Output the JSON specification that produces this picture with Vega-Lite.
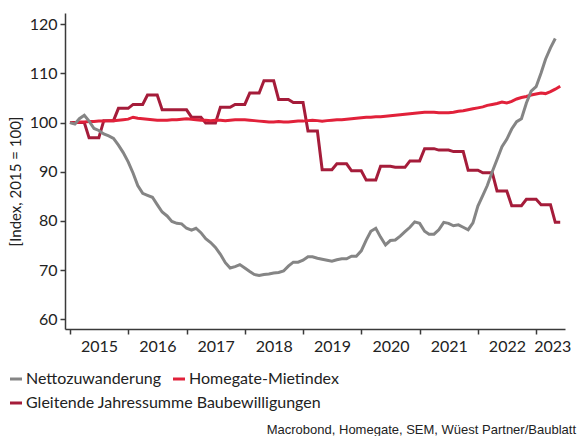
{
  "$schema": "https://vega.github.io/schema/vega-lite/v6.json",
  "width": 500,
  "height": 316,
  "autosize": {"type": "none"},
  "padding": {"left": 65, "top": 13, "right": 12, "bottom": 107},
  "background": "white",
  "config": {
    "view": {"stroke": null},
    "font": "Lato",
    "legend": {
      "orient": "none",
      "direction": "horizontal",
      "title": null,
      "symbolType": "stroke",
      "symbolSize": 144,
      "symbolStrokeWidth": 3,
      "labelFont": "Lato",
      "labelFontSize": 16,
      "labelColor": "#222222",
      "labelLimit": 400,
      "labelOffset": 2,
      "columnPadding": 5,
      "padding": 0
    }
  },
  "title": {
    "text": "Macrobond, Homegate, SEM, Wüest Partner/Baublatt",
    "orient": "bottom",
    "anchor": "end",
    "frame": "group",
    "font": "Liberation Sans",
    "fontSize": 13,
    "fontWeight": "normal",
    "color": "#222222",
    "offset": 13,
    "dx": 11
  },
  "data": {
    "values": [
      {"date": "2015-01-01", "netto": 100.0, "miet": 100.0, "bau": 100.0},
      {"date": "2015-02-01", "netto": 99.7, "miet": 99.9, "bau": 100.0},
      {"date": "2015-03-01", "netto": 100.8, "miet": 100.1, "bau": 100.0},
      {"date": "2015-04-01", "netto": 101.5, "miet": 100.1, "bau": 100.0},
      {"date": "2015-05-01", "netto": 100.3, "miet": 100.2, "bau": 96.9},
      {"date": "2015-06-01", "netto": 98.8, "miet": 100.2, "bau": 96.9},
      {"date": "2015-07-01", "netto": 98.4, "miet": 100.3, "bau": 96.9},
      {"date": "2015-08-01", "netto": 97.7, "miet": 100.3, "bau": 100.4},
      {"date": "2015-09-01", "netto": 97.3, "miet": 100.4, "bau": 100.4},
      {"date": "2015-10-01", "netto": 96.8, "miet": 100.4, "bau": 100.4},
      {"date": "2015-11-01", "netto": 95.4, "miet": 100.5, "bau": 102.9},
      {"date": "2015-12-01", "netto": 93.9, "miet": 100.6, "bau": 102.9},
      {"date": "2016-01-01", "netto": 92.0, "miet": 100.7, "bau": 102.9},
      {"date": "2016-02-01", "netto": 89.7, "miet": 101.1, "bau": 103.7},
      {"date": "2016-03-01", "netto": 87.2, "miet": 100.9, "bau": 103.7},
      {"date": "2016-04-01", "netto": 85.6, "miet": 100.8, "bau": 103.7},
      {"date": "2016-05-01", "netto": 85.2, "miet": 100.7, "bau": 105.6},
      {"date": "2016-06-01", "netto": 84.8, "miet": 100.6, "bau": 105.6},
      {"date": "2016-07-01", "netto": 83.3, "miet": 100.5, "bau": 105.6},
      {"date": "2016-08-01", "netto": 81.8, "miet": 100.5, "bau": 102.6},
      {"date": "2016-09-01", "netto": 81.0, "miet": 100.5, "bau": 102.6},
      {"date": "2016-10-01", "netto": 79.9, "miet": 100.6, "bau": 102.6},
      {"date": "2016-11-01", "netto": 79.5, "miet": 100.6, "bau": 102.6},
      {"date": "2016-12-01", "netto": 79.4, "miet": 100.7, "bau": 102.6},
      {"date": "2017-01-01", "netto": 78.5, "miet": 100.8, "bau": 102.6},
      {"date": "2017-02-01", "netto": 78.1, "miet": 100.7, "bau": 101.1},
      {"date": "2017-03-01", "netto": 78.5, "miet": 100.6, "bau": 101.1},
      {"date": "2017-04-01", "netto": 77.6, "miet": 100.5, "bau": 101.1},
      {"date": "2017-05-01", "netto": 76.4, "miet": 100.5, "bau": 99.9},
      {"date": "2017-06-01", "netto": 75.6, "miet": 100.4, "bau": 99.9},
      {"date": "2017-07-01", "netto": 74.6, "miet": 100.5, "bau": 99.9},
      {"date": "2017-08-01", "netto": 73.2, "miet": 100.5, "bau": 103.1},
      {"date": "2017-09-01", "netto": 71.5, "miet": 100.4, "bau": 103.1},
      {"date": "2017-10-01", "netto": 70.4, "miet": 100.5, "bau": 103.1},
      {"date": "2017-11-01", "netto": 70.7, "miet": 100.6, "bau": 103.7},
      {"date": "2017-12-01", "netto": 71.1, "miet": 100.6, "bau": 103.7},
      {"date": "2018-01-01", "netto": 70.4, "miet": 100.6, "bau": 103.7},
      {"date": "2018-02-01", "netto": 69.7, "miet": 100.5, "bau": 106.0},
      {"date": "2018-03-01", "netto": 69.1, "miet": 100.4, "bau": 106.0},
      {"date": "2018-04-01", "netto": 68.9, "miet": 100.3, "bau": 106.0},
      {"date": "2018-05-01", "netto": 69.1, "miet": 100.2, "bau": 108.5},
      {"date": "2018-06-01", "netto": 69.2, "miet": 100.1, "bau": 108.5},
      {"date": "2018-07-01", "netto": 69.4, "miet": 100.1, "bau": 108.5},
      {"date": "2018-08-01", "netto": 69.5, "miet": 100.2, "bau": 104.7},
      {"date": "2018-09-01", "netto": 69.8, "miet": 100.1, "bau": 104.7},
      {"date": "2018-10-01", "netto": 70.8, "miet": 100.1, "bau": 104.7},
      {"date": "2018-11-01", "netto": 71.6, "miet": 100.2, "bau": 104.1},
      {"date": "2018-12-01", "netto": 71.6, "miet": 100.3, "bau": 104.1},
      {"date": "2019-01-01", "netto": 72.0, "miet": 100.3, "bau": 104.1},
      {"date": "2019-02-01", "netto": 72.7, "miet": 100.4, "bau": 98.3},
      {"date": "2019-03-01", "netto": 72.7, "miet": 100.5, "bau": 98.3},
      {"date": "2019-04-01", "netto": 72.4, "miet": 100.4, "bau": 98.3},
      {"date": "2019-05-01", "netto": 72.2, "miet": 100.3, "bau": 90.4},
      {"date": "2019-06-01", "netto": 72.0, "miet": 100.4, "bau": 90.4},
      {"date": "2019-07-01", "netto": 71.8, "miet": 100.5, "bau": 90.4},
      {"date": "2019-08-01", "netto": 72.1, "miet": 100.6, "bau": 91.6},
      {"date": "2019-09-01", "netto": 72.3, "miet": 100.6, "bau": 91.6},
      {"date": "2019-10-01", "netto": 72.3, "miet": 100.7, "bau": 91.6},
      {"date": "2019-11-01", "netto": 72.8, "miet": 100.8, "bau": 90.2},
      {"date": "2019-12-01", "netto": 72.8, "miet": 100.9, "bau": 90.2},
      {"date": "2020-01-01", "netto": 73.9, "miet": 101.0, "bau": 90.2},
      {"date": "2020-02-01", "netto": 76.1, "miet": 101.1, "bau": 88.3},
      {"date": "2020-03-01", "netto": 77.9, "miet": 101.1, "bau": 88.3},
      {"date": "2020-04-01", "netto": 78.5, "miet": 101.2, "bau": 88.3},
      {"date": "2020-05-01", "netto": 76.7, "miet": 101.2, "bau": 91.1},
      {"date": "2020-06-01", "netto": 75.1, "miet": 101.3, "bau": 91.1},
      {"date": "2020-07-01", "netto": 76.0, "miet": 101.4, "bau": 91.1},
      {"date": "2020-08-01", "netto": 76.1, "miet": 101.5, "bau": 90.9},
      {"date": "2020-09-01", "netto": 76.9, "miet": 101.6, "bau": 90.9},
      {"date": "2020-10-01", "netto": 77.8, "miet": 101.7, "bau": 90.9},
      {"date": "2020-11-01", "netto": 78.7, "miet": 101.8, "bau": 92.2},
      {"date": "2020-12-01", "netto": 79.8, "miet": 101.9, "bau": 92.2},
      {"date": "2021-01-01", "netto": 79.5, "miet": 102.0, "bau": 92.2},
      {"date": "2021-02-01", "netto": 77.9, "miet": 102.1, "bau": 94.7},
      {"date": "2021-03-01", "netto": 77.3, "miet": 102.1, "bau": 94.7},
      {"date": "2021-04-01", "netto": 77.3, "miet": 102.1, "bau": 94.7},
      {"date": "2021-05-01", "netto": 78.2, "miet": 102.0, "bau": 94.4},
      {"date": "2021-06-01", "netto": 79.7, "miet": 102.0, "bau": 94.4},
      {"date": "2021-07-01", "netto": 79.5, "miet": 102.0, "bau": 94.4},
      {"date": "2021-08-01", "netto": 79.0, "miet": 102.1, "bau": 94.1},
      {"date": "2021-09-01", "netto": 79.2, "miet": 102.3, "bau": 94.1},
      {"date": "2021-10-01", "netto": 78.7, "miet": 102.4, "bau": 94.1},
      {"date": "2021-11-01", "netto": 78.2, "miet": 102.6, "bau": 90.3},
      {"date": "2021-12-01", "netto": 79.6, "miet": 102.8, "bau": 90.3},
      {"date": "2022-01-01", "netto": 83.0, "miet": 103.0, "bau": 90.3},
      {"date": "2022-02-01", "netto": 85.2, "miet": 103.2, "bau": 89.8},
      {"date": "2022-03-01", "netto": 87.2, "miet": 103.5, "bau": 89.8},
      {"date": "2022-04-01", "netto": 90.0, "miet": 103.7, "bau": 89.8},
      {"date": "2022-05-01", "netto": 92.5, "miet": 103.9, "bau": 86.1},
      {"date": "2022-06-01", "netto": 95.1, "miet": 104.2, "bau": 86.1},
      {"date": "2022-07-01", "netto": 96.6, "miet": 104.0, "bau": 86.1},
      {"date": "2022-08-01", "netto": 98.7, "miet": 104.3, "bau": 83.1},
      {"date": "2022-09-01", "netto": 100.2, "miet": 104.8, "bau": 83.1},
      {"date": "2022-10-01", "netto": 100.8, "miet": 105.1, "bau": 83.1},
      {"date": "2022-11-01", "netto": 104.0, "miet": 105.3, "bau": 84.4},
      {"date": "2022-12-01", "netto": 106.4, "miet": 105.6, "bau": 84.4},
      {"date": "2023-01-01", "netto": 107.3, "miet": 105.8, "bau": 84.4},
      {"date": "2023-02-01", "netto": 110.1, "miet": 106.0, "bau": 83.3},
      {"date": "2023-03-01", "netto": 112.9, "miet": 105.9, "bau": 83.3},
      {"date": "2023-04-01", "netto": 115.2, "miet": 106.3, "bau": 83.3},
      {"date": "2023-05-01", "netto": 117.1, "miet": 106.8, "bau": 79.7},
      {"date": "2023-06-01", "miet": 107.4, "bau": 79.7}
    ]
  },
  "transform": [
    {"fold": ["bau", "miet", "netto"], "as": ["series", "value"]},
    {"filter": "isValid(datum.value)"}
  ],
  "resolve": {"axis": {"x": "independent"}},
  "layer": [
    {
      "transform": [{"filter": "datum.series == 'bau'"}],
      "mark": {"type": "line", "strokeWidth": 3},
      "encoding": {
        "x": {
          "field": "date",
          "type": "temporal",
          "scale": {"domain": [{"year": 2014, "month": 12, "date": 1}, {"year": 2023, "month": 7, "date": 1}]},
          "axis": {
            "orient": "bottom",
            "title": null,
            "labels": false,
            "grid": false,
            "values": [
              {"year": 2015, "month": 1, "date": 1},
              {"year": 2016, "month": 1, "date": 1},
              {"year": 2017, "month": 1, "date": 1},
              {"year": 2018, "month": 1, "date": 1},
              {"year": 2019, "month": 1, "date": 1},
              {"year": 2020, "month": 1, "date": 1},
              {"year": 2021, "month": 1, "date": 1},
              {"year": 2022, "month": 1, "date": 1},
              {"year": 2023, "month": 1, "date": 1}
            ],
            "domainColor": "#3a3a3a",
            "domainWidth": 1.5,
            "tickColor": "#3a3a3a",
            "tickWidth": 1.5,
            "tickSize": 5
          }
        },
        "y": {
          "field": "value",
          "type": "quantitative",
          "scale": {"domain": [58, 122.3], "nice": false, "zero": false},
          "axis": {
            "title": "[Index, 2015 = 100]",
            "titleFont": "Lato",
            "titleFontSize": 15,
            "titleFontWeight": "normal",
            "titleColor": "#222222",
            "titlePadding": 6,
            "titleY": 168,
            "values": [60, 70, 80, 90, 100, 110, 120],
            "grid": false,
            "labelFont": "Lato",
            "labelFontSize": 16,
            "labelColor": "#222222",
            "labelPadding": 3,
            "domainColor": "#3a3a3a",
            "domainWidth": 1.5,
            "tickColor": "#3a3a3a",
            "tickWidth": 1.5,
            "tickSize": 5
          }
        },
        "stroke": {
          "field": "series",
          "type": "nominal",
          "scale": {"domain": ["bau"], "range": ["#a51c3a"]},
          "legend": {
            "legendX": -57,
            "legendY": 382,
            "labelExpr": "'Gleitende Jahressumme Baubewilligungen'"
          }
        }
      }
    },
    {
      "transform": [{"filter": "datum.series != 'bau'"}],
      "mark": {"type": "line", "strokeWidth": 3},
      "encoding": {
        "x": {"field": "date", "type": "temporal", "axis": null},
        "y": {"field": "value", "type": "quantitative"},
        "color": {
          "field": "series",
          "type": "nominal",
          "scale": {"domain": ["netto", "miet"], "range": ["#858585", "#e1213a"]},
          "legend": {
            "legendX": -57,
            "legendY": 358,
            "labelExpr": "datum.label == 'netto' ? 'Nettozuwanderung' : 'Homegate-Mietindex'"
          }
        }
      }
    },
    {
      "mark": {"type": "point", "opacity": 0},
      "encoding": {
        "x": {
          "field": "date",
          "type": "temporal",
          "axis": {
            "orient": "bottom",
            "title": null,
            "domain": false,
            "ticks": false,
            "grid": false,
            "format": "%Y",
            "labelFont": "Lato",
            "labelFontSize": 16,
            "labelColor": "#222222",
            "labelPadding": 9,
            "labelOverlap": false,
            "labelBound": false,
            "labelFlush": false,
            "values": [
              {"year": 2015, "month": 7, "date": 2},
              {"year": 2016, "month": 7, "date": 2},
              {"year": 2017, "month": 7, "date": 2},
              {"year": 2018, "month": 7, "date": 2},
              {"year": 2019, "month": 7, "date": 2},
              {"year": 2020, "month": 7, "date": 2},
              {"year": 2021, "month": 7, "date": 2},
              {"year": 2022, "month": 7, "date": 2},
              {"year": 2023, "month": 4, "date": 12}
            ]
          }
        },
        "y": {"field": "value", "type": "quantitative"}
      }
    }
  ]
}
